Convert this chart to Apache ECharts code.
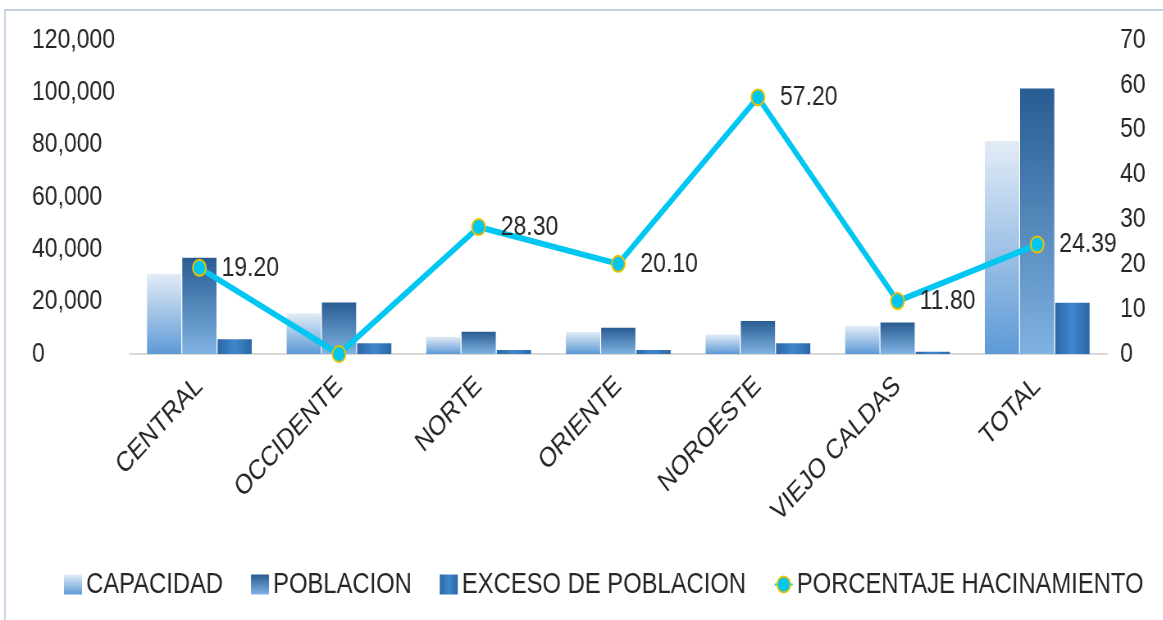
<!DOCTYPE html>
<html>
<head>
<meta charset="utf-8">
<script src="https://cdn.jsdelivr.net/npm/echarts@6/dist/echarts.min.js"></script>
<style>
  html, body { margin: 0; padding: 0; background: #fff; overflow: hidden; }
  /* la imagen original está comprimida en horizontal: se dibuja más ancha y se escala */
  #chart { width: 1418px; height: 620px; transform: scaleX(0.82); transform-origin: 0 0; }
</style>
</head>
<body>
<div id="chart"></div>
<script>
// datos
const categorias = ['CENTRAL', 'OCCIDENTE', 'NORTE', 'ORIENTE', 'NOROESTE', 'VIEJO CALDAS', 'TOTAL']
const capacidad = [30600, 15500, 6600, 8500, 7500, 10700, 81400]
const poblacion = [36800, 19700, 8500, 10000, 12600, 12000, 101500]
const exceso = [5600, 4100, 1500, 1500, 4100, 900, 19600]
const hacinamiento = [19.2, 0, 28.3, 20.1, 57.2, 11.8, 24.39]

const FONT = '"Liberation Sans", Arial, sans-serif'
const TEXT_COLOR = '#262626'

function vgrad(top, bottom) {
    return new echarts.graphic.LinearGradient(0, 0, 0, 1, [
        { offset: 0, color: top },
        { offset: 1, color: bottom },
    ])
}

const myChart = echarts.init(document.getElementById('chart'))

const option = {
    backgroundColor: '#fff',
    animation: false,
    textStyle: { fontFamily: FONT },
    // marco del gráfico
    graphic: [
        {
            type: 'rect',
            shape: { x: 6, y: 10, width: 1500, height: 700 },
            style: { fill: 'none', stroke: '#c5d3e6', lineWidth: 2 },
            silent: true,
        },
    ],
    grid: {
        left: 158,
        right: 68,
        top: 40,
        bottom: 266,
    },
    legend: {
        left: 73,
        top: 565,
        itemGap: 34,
        itemWidth: 22,
        itemHeight: 20,
        textStyle: { fontSize: 29, color: TEXT_COLOR, fontFamily: FONT },
        data: [
            { name: 'CAPACIDAD', icon: 'rect' },
            { name: 'POBLACION', icon: 'rect' },
            { name: 'EXCESO DE POBLACION', icon: 'rect' },
            { name: 'PORCENTAJE HACINAMIENTO' },
        ],
    },
    xAxis: {
        type: 'category',
        data: categorias,
        axisLine: { lineStyle: { color: '#d9d9d9', width: 2 } },
        axisTick: { show: false },
        axisLabel: {
            rotate: 42,
            margin: 28,
            interval: 0,
            fontSize: 28,
            color: TEXT_COLOR,
            fontFamily: FONT,
        },
    },
    yAxis: [
        {
            type: 'value',
            min: 0,
            max: 120000,
            interval: 20000,
            axisLine: { show: false },
            axisTick: { show: false },
            splitLine: { show: false },
            axisLabel: {
                align: 'left',
                margin: 119,
                fontSize: 28,
                color: TEXT_COLOR,
                fontFamily: FONT,
                formatter: (v) => v.toLocaleString('en-US'),
            },
        },
        {
            type: 'value',
            min: 0,
            max: 70,
            interval: 10,
            axisLine: { show: false },
            axisTick: { show: false },
            splitLine: { show: false },
            axisLabel: {
                align: 'left',
                margin: 16,
                fontSize: 28,
                color: TEXT_COLOR,
                fontFamily: FONT,
            },
        },
    ],
    series: [
        {
            name: 'CAPACIDAD',
            type: 'bar',
            data: capacidad,
            barGap: '3%',
            barCategoryGap: '25%',
            itemStyle: { color: vgrad('#e3ecf7', '#5d9ad6') },
        },
        {
            name: 'POBLACION',
            type: 'bar',
            data: poblacion,
            itemStyle: { color: vgrad('#285c92', '#80b3e3') },
        },
        {
            name: 'EXCESO DE POBLACION',
            type: 'bar',
            data: exceso,
            itemStyle: {
                color: new echarts.graphic.LinearGradient(0, 0, 1, 0, [
                    { offset: 0, color: '#2c67a6' },
                    { offset: 0.5, color: '#3f88cc' },
                    { offset: 1, color: '#2c67a6' },
                ]),
            },
        },
        {
            name: 'PORCENTAJE HACINAMIENTO',
            type: 'line',
            yAxisIndex: 1,
            data: hacinamiento,
            symbol: 'circle',
            symbolSize: 16,
            z: 5,
            lineStyle: { color: '#00c6f2', width: 6 },
            itemStyle: { color: '#00c6f2', borderColor: '#e8c000', borderWidth: 2 },
            label: {
                show: true,
                position: 'right',
                distance: 18,
                fontSize: 28,
                color: TEXT_COLOR,
                fontFamily: FONT,
                formatter: (p) => (p.value === 0 ? '' : p.value.toFixed(2)),
            },
        },
    ],
}

myChart.setOption(option)
</script>
</body>
</html>
